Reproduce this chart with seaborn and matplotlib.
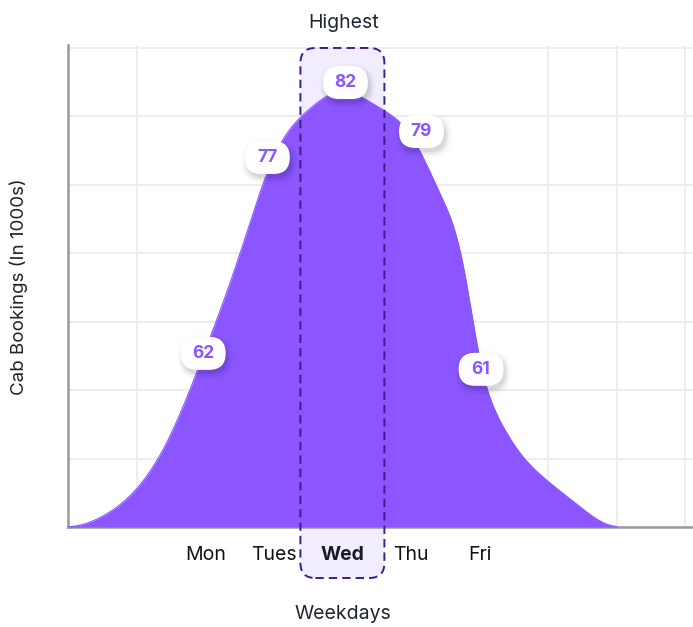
import numpy as np
import pandas as pd
import matplotlib
matplotlib.use("Agg")
import matplotlib.pyplot as plt
import seaborn as sns
from matplotlib.patches import FancyBboxPatch
from matplotlib.transforms import IdentityTransform

# ---------------- data ----------------
weekdays = ["Mon", "Tues", "Wed", "Thu", "Fri"]
bookings = [62, 77, 82, 79, 61]
highlight_day = "Wed"
# curve outline: category slot (Mon = 2 ... Fri = 6) and height
profile_slots = [0, 0.5, 1, 1.5, 2, 2.5, 3, 3.5, 4, 4.5, 5, 5.5, 5.75, 6, 6.25, 6.5, 7, 7.5, 8]
profile_values = [48.4, 49.2, 51.3, 55.5, 62, 69.3, 77, 80.5, 82, 80.8, 78.6, 73.2,
                  69.3, 61, 57.0, 54.7, 51.9, 49.8, 48.4]
title_text = "Highest"
x_title = "Weekdays"
y_title = "Cab Bookings (In 1000s)"

# ---------------- style ----------------
PURPLE = "#8B55FF"
DARK_PURPLE = "#3F1C8C"
GRID = "#EDEDED"
AXIS = "#9A9A9A"
TEXT = "#1E2433"

sns.set_theme(style="white")
plt.rcParams["font.family"] = ["Inter", "DejaVu Sans"]

W, H, DPI = 693, 627, 100
fig = plt.figure(figsize=(W / DPI, H / DPI), dpi=DPI)
ax = fig.add_axes([68 / W, 100 / H, 625 / W, 482 / H])

first_slot = 2
day_slots = np.arange(len(weekdays)) + first_slot
slot_of = dict(zip(weekdays, day_slots))
y_floor = min(profile_values)
grid_step = 5.268

ax.set_xlim(0, 625 / 68.6)
ax.set_ylim(y_floor, y_floor + 482 / 12.99)


def smooth_outline(xk, yk, n=1601, sigma=0.1):
    """C2 cubic spline with flat ends, lightly blurred (used only to draw the outline)."""
    x = np.asarray(xk, float)
    y = np.asarray(yk, float)
    N = len(x)
    h = np.diff(x)
    A = np.zeros((N, N))
    b = np.zeros(N)
    A[0, 0], A[0, 1] = 2 * h[0], h[0]
    b[0] = 6 * ((y[1] - y[0]) / h[0])
    A[-1, -2], A[-1, -1] = h[-1], 2 * h[-1]
    b[-1] = 6 * (0 - (y[-1] - y[-2]) / h[-1])
    for i in range(1, N - 1):
        A[i, i - 1] = h[i - 1]
        A[i, i] = 2 * (h[i - 1] + h[i])
        A[i, i + 1] = h[i]
        b[i] = 6 * ((y[i + 1] - y[i]) / h[i] - (y[i] - y[i - 1]) / h[i - 1])
    M = np.linalg.solve(A, b)
    xs = np.linspace(x[0], x[-1], n)
    i = np.clip(np.searchsorted(x, xs, side="right") - 1, 0, N - 2)
    hi = h[i]
    a = x[i + 1] - xs
    c = xs - x[i]
    ys = (M[i] * a**3 + M[i + 1] * c**3) / (6 * hi) \
        + (y[i] / hi - M[i] * hi / 6) * a + (y[i + 1] / hi - M[i + 1] * hi / 6) * c
    ys = np.maximum(ys, y.min())
    dx = xs[1] - xs[0]
    r = int(4 * sigma / dx)
    ker = np.exp(-0.5 * (np.arange(-r, r + 1) * dx / sigma) ** 2)
    ker /= ker.sum()
    padded = np.concatenate([np.full(r, ys[0]), ys, np.full(r, ys[-1])])
    ys = np.convolve(padded, ker, mode="valid")
    return xs, ys


xs, ys = smooth_outline(profile_slots, profile_values)
df = pd.DataFrame({"slot": xs, "bookings": ys})
sns.lineplot(data=df, x="slot", y="bookings", color=PURPLE, lw=0.8, ax=ax, zorder=3)
ax.fill_between(df["slot"], y_floor, df["bookings"], color=PURPLE, lw=0, zorder=3)

# grid & axes
ax.set_xticks(np.arange(0, 10), minor=True)
ax.set_xticks(day_slots)
ax.set_xticklabels(weekdays)
ax.set_yticks(y_floor + np.arange(8) * grid_step)
ax.set_yticklabels([])
ax.grid(False)
ax.grid(True, which="minor", axis="x", color=GRID, lw=1.4)
ax.grid(True, which="major", axis="y", color=GRID, lw=1.4)
ax.set_axisbelow(True)
ax.tick_params(axis="both", which="both", length=0)
ax.tick_params(axis="x", pad=13.5, labelsize=14, labelcolor="#111111")
for lab in ax.get_xticklabels():
    if lab.get_text() == highlight_day:
        lab.set_fontweight("bold")
for side in ["top", "right"]:
    ax.spines[side].set_visible(False)
for side in ["left", "bottom"]:
    ax.spines[side].set_color(AXIS)
    ax.spines[side].set_linewidth(1.8)
ax.set_xlabel("")
ax.set_ylabel("")

# highlight box (fill under area, dashed edge over it)
idt = IdentityTransform()
cx = ax.transData.transform((slot_of[highlight_day], y_floor))[0]
top_px = ax.transData.transform((0, y_floor + 7 * grid_step))[1]
bot_px = ax.transData.transform((0, y_floor))[1] - 51
half_w = 42
box_kw = dict(boxstyle="round,pad=0,rounding_size=15", transform=idt, clip_on=False)
ax.add_patch(FancyBboxPatch((cx - half_w, bot_px), 2 * half_w, top_px - bot_px,
                            fc=PURPLE, alpha=0.11, ec="none", zorder=1, **box_kw))
ax.add_patch(FancyBboxPatch((cx - half_w, bot_px), 2 * half_w, top_px - bot_px,
                            fc="none", ec=DARK_PURPLE, lw=1.4, ls=(0, (4.3, 2.6)),
                            zorder=4, **box_kw))

# value pills
pill_offsets = [(-2, -3), (-6.5, -2), (3, 8), (10.5, -2), (1.5, -6)]
pw, ph = 45, 33
for day, val, (dx, dy) in zip(weekdays, bookings, pill_offsets):
    px, py = ax.transData.transform((slot_of[day], val))
    px += dx
    py += dy
    for k, a in enumerate([0.05, 0.04, 0.03, 0.02, 0.012]):
        g = 1.5 * k
        ax.add_patch(FancyBboxPatch((px - pw / 2 + 2 - g, py - ph / 2 - 4 - g), pw + 2 * g, ph + 2 * g,
                                    boxstyle=f"round,pad=0,rounding_size={ph / 2 + g}",
                                    transform=idt, clip_on=False, fc="black", ec="none",
                                    alpha=a, zorder=5))
    ax.add_patch(FancyBboxPatch((px - pw / 2, py - ph / 2), pw, ph,
                                boxstyle=f"round,pad=0,rounding_size={ph / 2}",
                                transform=idt, clip_on=False, fc="white", ec="none", zorder=6))
    ax.text(px, py, str(val), transform=idt, ha="center", va="center",
            fontsize=12.5, fontweight="bold", color=PURPLE, zorder=7)

# titles
fig.text(344 / W, 1 - 23 / H, title_text, ha="center", va="center", fontsize=14, color=TEXT)
fig.text(343 / W, 1 - 614 / H, x_title, ha="center", va="center", fontsize=14, color=TEXT)
fig.text(19 / W, 1 - 287 / H, y_title, ha="center", va="center", rotation=90, fontsize=13.5, color="#222222")

fig.savefig("out.png", dpi=DPI)
